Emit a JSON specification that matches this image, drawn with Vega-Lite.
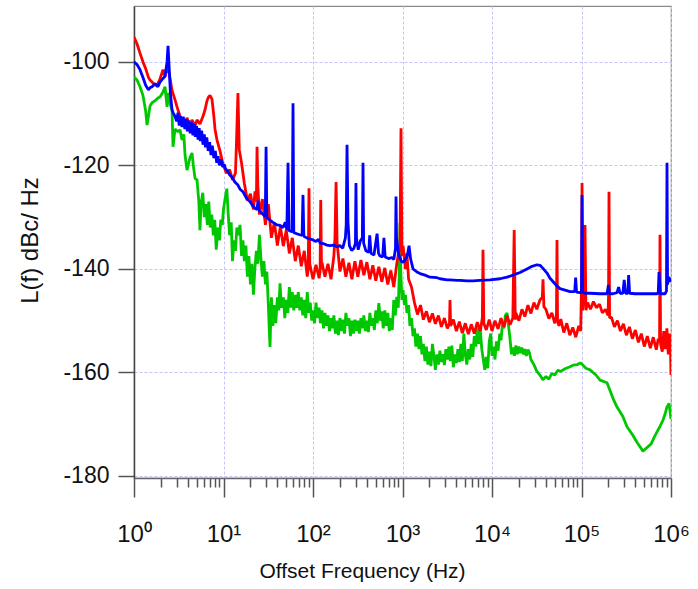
{
"$schema":"https://vega.github.io/schema/vega-lite/v6.json",
"width":537,"height":472,
"autosize":{"type":"none"},
"padding":{"left":134,"top":6,"right":27,"bottom":111},
"background":"white",
"config":{"view":{"stroke":"#8a8a8a","strokeWidth":1.2},"font":"Liberation Sans"},
"datasets":{
"blue":[{"freq":1,"level":-100},{"freq":1.08,"level":-100.5},{"freq":1.167,"level":-101.5},{"freq":1.26,"level":-103},{"freq":1.35,"level":-104.5},{"freq":1.45,"level":-105.4},{"freq":1.51,"level":-105},{"freq":1.59,"level":-104.8},{"freq":1.72,"level":-104.2},{"freq":1.85,"level":-104.8},{"freq":1.95,"level":-103.9},{"freq":2.11,"level":-103.2},{"freq":2.22,"level":-102.8},{"freq":2.34,"level":-100},{"freq":2.4,"level":-96.9},{"freq":2.47,"level":-101},{"freq":2.55,"level":-106},{"freq":2.66,"level":-109.3},{"freq":2.73,"level":-109.8},{"freq":2.87,"level":-110.5},{"freq":3,"level":-111.5},{"freq":3.1,"level":-109.8},{"freq":3.2,"level":-112.3},{"freq":3.3,"level":-110.5},{"freq":3.44,"level":-112.6},{"freq":3.55,"level":-110.6},{"freq":3.7,"level":-113},{"freq":3.8,"level":-111},{"freq":3.95,"level":-113.4},{"freq":4.1,"level":-111.3},{"freq":4.25,"level":-113.8},{"freq":4.4,"level":-111.7},{"freq":4.55,"level":-114.2},{"freq":4.7,"level":-112},{"freq":4.85,"level":-114.5},{"freq":5,"level":-112.4},{"freq":5.2,"level":-115},{"freq":5.35,"level":-112.8},{"freq":5.5,"level":-115.3},{"freq":5.7,"level":-113.3},{"freq":5.9,"level":-116},{"freq":6.1,"level":-114},{"freq":6.3,"level":-116.5},{"freq":6.5,"level":-114.6},{"freq":6.75,"level":-117.2},{"freq":7,"level":-115.5},{"freq":7.25,"level":-118},{"freq":7.5,"level":-116.2},{"freq":7.8,"level":-118.6},{"freq":8.1,"level":-117.2},{"freq":8.4,"level":-119.5},{"freq":8.7,"level":-118.2},{"freq":9,"level":-120},{"freq":9.4,"level":-118.8},{"freq":9.8,"level":-120.3},{"freq":10.2,"level":-119.8},{"freq":10.5,"level":-120.6},{"freq":11.2,"level":-121.2},{"freq":11.8,"level":-121.9},{"freq":12.5,"level":-122.3},{"freq":13.4,"level":-123.2},{"freq":14.5,"level":-123.8},{"freq":15.3,"level":-124.6},{"freq":16.5,"level":-125.1},{"freq":18.3,"level":-126.5},{"freq":19.8,"level":-127},{"freq":21,"level":-127.7},{"freq":22.5,"level":-128.3},{"freq":23.7,"level":-128.5},{"freq":24.3,"level":-126.8},{"freq":25,"level":-128.7},{"freq":27,"level":-129.3},{"freq":29.3,"level":-129.9},{"freq":29.9,"level":-116.4},{"freq":30.5,"level":-130},{"freq":33.1,"level":-130.6},{"freq":35.7,"level":-131},{"freq":39.6,"level":-131.5},{"freq":42.8,"level":-131.6},{"freq":46.2,"level":-132},{"freq":49,"level":-131},{"freq":51,"level":-132.5},{"freq":52.6,"level":-119.5},{"freq":54,"level":-132.6},{"freq":58.5,"level":-132.8},{"freq":59.8,"level":-108},{"freq":61,"level":-133},{"freq":66,"level":-133.2},{"freq":71,"level":-133.4},{"freq":75.5,"level":-133.5},{"freq":77.3,"level":-125.7},{"freq":79,"level":-133.7},{"freq":85,"level":-134},{"freq":92,"level":-134.2},{"freq":100,"level":-134.4},{"freq":108,"level":-134.7},{"freq":115,"level":-134.3},{"freq":120,"level":-135},{"freq":130,"level":-135.1},{"freq":143,"level":-135.4},{"freq":155,"level":-135.5},{"freq":170,"level":-135.4},{"freq":185,"level":-135.7},{"freq":200,"level":-135.5},{"freq":215,"level":-136},{"freq":230,"level":-134},{"freq":235,"level":-131.5},{"freq":240,"level":-116},{"freq":246,"level":-131},{"freq":255,"level":-135.5},{"freq":270,"level":-136.4},{"freq":285,"level":-136.1},{"freq":298,"level":-135},{"freq":302,"level":-123.4},{"freq":306,"level":-134},{"freq":320,"level":-136.3},{"freq":340,"level":-134.5},{"freq":356,"level":-134},{"freq":362,"level":-119.5},{"freq":368,"level":-135},{"freq":390,"level":-136.5},{"freq":420,"level":-136.8},{"freq":430,"level":-133.5},{"freq":445,"level":-137},{"freq":480,"level":-137.3},{"freq":520,"level":-133.2},{"freq":540,"level":-137},{"freq":560,"level":-137.5},{"freq":600,"level":-137.7},{"freq":620,"level":-134},{"freq":640,"level":-137.7},{"freq":700,"level":-138},{"freq":760,"level":-137.8},{"freq":800,"level":-138.2},{"freq":835,"level":-136},{"freq":846,"level":-126},{"freq":858,"level":-134},{"freq":900,"level":-137},{"freq":940,"level":-138},{"freq":985,"level":-138.7},{"freq":1050,"level":-138.5},{"freq":1130,"level":-137.5},{"freq":1183,"level":-135.5},{"freq":1230,"level":-138},{"freq":1311,"level":-140},{"freq":1450,"level":-140.6},{"freq":1570,"level":-140.9},{"freq":1784,"level":-141.2},{"freq":2029,"level":-141.6},{"freq":2429,"level":-141.7},{"freq":2624,"level":-141.9},{"freq":3141,"level":-142.1},{"freq":3395,"level":-142.1},{"freq":4064,"level":-142.2},{"freq":4387,"level":-142.2},{"freq":5255,"level":-142.3},{"freq":6138,"level":-142.3},{"freq":7345,"level":-142.2},{"freq":9500,"level":-142.1},{"freq":12280,"level":-141.9},{"freq":14720,"level":-141.6},{"freq":17180,"level":-141.2},{"freq":20560,"level":-140.7},{"freq":24600,"level":-140},{"freq":28000,"level":-139.5},{"freq":31850,"level":-139.2},{"freq":34390,"level":-139.3},{"freq":37150,"level":-139.9},{"freq":41180,"level":-140.8},{"freq":44460,"level":-141.8},{"freq":53250,"level":-143.3},{"freq":57540,"level":-143.8},{"freq":65430,"level":-144.1},{"freq":74430,"level":-144.4},{"freq":80350,"level":-144.4},{"freq":84000,"level":-144.4},{"freq":86000,"level":-141.7},{"freq":88000,"level":-144.5},{"freq":96240,"level":-144.6},{"freq":100000,"level":-144.5},{"freq":101400,"level":-125.7},{"freq":103000,"level":-144.5},{"freq":109400,"level":-144.7},{"freq":124500,"level":-144.7},{"freq":161000,"level":-144.8},{"freq":192800,"level":-144.8},{"freq":200000,"level":-143.1},{"freq":205000,"level":-144.8},{"freq":224900,"level":-144.8},{"freq":249300,"level":-144.6},{"freq":260000,"level":-143.5},{"freq":269200,"level":-144.7},{"freq":290000,"level":-144.7},{"freq":300000,"level":-142.1},{"freq":310000,"level":-144.7},{"freq":330000,"level":-144.7},{"freq":336000,"level":-141.2},{"freq":345000,"level":-144.7},{"freq":396100,"level":-144.8},{"freq":450600,"level":-144.8},{"freq":486700,"level":-144.8},{"freq":582400,"level":-144.8},{"freq":629500,"level":-144.8},{"freq":697800,"level":-144.8},{"freq":720000,"level":-144.7},{"freq":734500,"level":-140.6},{"freq":760000,"level":-144.8},{"freq":814300,"level":-144.8},{"freq":857700,"level":-144.8},{"freq":890000,"level":-144.3},{"freq":902300,"level":-119.5},{"freq":915000,"level":-143},{"freq":940000,"level":-141.5},{"freq":960000,"level":-142.5},{"freq":1000000,"level":-141.7}],
"red":[{"freq":1,"level":-95.2},{"freq":1.08,"level":-96.5},{"freq":1.167,"level":-98.3},{"freq":1.26,"level":-100},{"freq":1.35,"level":-101.3},{"freq":1.45,"level":-103},{"freq":1.51,"level":-103.5},{"freq":1.59,"level":-103.9},{"freq":1.72,"level":-104.5},{"freq":1.85,"level":-104.2},{"freq":1.95,"level":-103.3},{"freq":2.11,"level":-101.5},{"freq":2.22,"level":-102.8},{"freq":2.34,"level":-101},{"freq":2.4,"level":-101.2},{"freq":2.52,"level":-103},{"freq":2.66,"level":-105.5},{"freq":2.87,"level":-107.3},{"freq":3,"level":-108.5},{"freq":3.27,"level":-110.5},{"freq":3.44,"level":-111.2},{"freq":3.72,"level":-112.3},{"freq":3.91,"level":-110.8},{"freq":4.22,"level":-112.6},{"freq":4.45,"level":-111.2},{"freq":4.81,"level":-112.4},{"freq":5.06,"level":-111.2},{"freq":5.46,"level":-112},{"freq":5.9,"level":-110.5},{"freq":6.21,"level":-109.3},{"freq":6.54,"level":-107.5},{"freq":6.8,"level":-106.8},{"freq":7.07,"level":-106.5},{"freq":7.44,"level":-107.2},{"freq":7.8,"level":-110.5},{"freq":8.04,"level":-113},{"freq":8.46,"level":-115.1},{"freq":9.14,"level":-117.2},{"freq":9.87,"level":-119.8},{"freq":10,"level":-120},{"freq":10.8,"level":-121.5},{"freq":11.7,"level":-120.8},{"freq":12.6,"level":-122.8},{"freq":13.6,"level":-121.5},{"freq":14,"level":-115},{"freq":14.5,"level":-106},{"freq":15,"level":-117},{"freq":15.9,"level":-119.5},{"freq":17.1,"level":-123.5},{"freq":18.5,"level":-126.8},{"freq":20,"level":-125.5},{"freq":21.6,"level":-128.5},{"freq":22.5,"level":-125},{"freq":23.3,"level":-127},{"freq":23.7,"level":-116.4},{"freq":24.2,"level":-124},{"freq":25.2,"level":-129.5},{"freq":27.2,"level":-126.5},{"freq":29.4,"level":-131.5},{"freq":31.7,"level":-127.5},{"freq":34.3,"level":-134},{"freq":37,"level":-131},{"freq":40,"level":-135.5},{"freq":43.2,"level":-131.8},{"freq":46.6,"level":-135.6},{"freq":50.3,"level":-132.5},{"freq":54.4,"level":-137},{"freq":58.7,"level":-134},{"freq":63.4,"level":-138.5},{"freq":68.5,"level":-135.5},{"freq":74,"level":-139.5},{"freq":79.9,"level":-136.5},{"freq":86.3,"level":-141.5},{"freq":88.5,"level":-140},{"freq":90.2,"level":-124.4},{"freq":92,"level":-139},{"freq":100,"level":-142},{"freq":108,"level":-139.2},{"freq":117,"level":-141.8},{"freq":120,"level":-140.5},{"freq":122,"level":-126.7},{"freq":124.5,"level":-140},{"freq":126,"level":-138.8},{"freq":136,"level":-141.5},{"freq":147,"level":-139},{"freq":159,"level":-142},{"freq":171,"level":-137.5},{"freq":176,"level":-134},{"freq":181,"level":-123.2},{"freq":186,"level":-135},{"freq":200,"level":-140.5},{"freq":216,"level":-138},{"freq":233,"level":-141.5},{"freq":252,"level":-138.8},{"freq":272,"level":-142},{"freq":294,"level":-138.5},{"freq":317,"level":-141.5},{"freq":343,"level":-138.3},{"freq":370,"level":-141.2},{"freq":400,"level":-138.7},{"freq":432,"level":-142},{"freq":466,"level":-139.3},{"freq":503,"level":-142.3},{"freq":544,"level":-139.6},{"freq":587,"level":-142.5},{"freq":634,"level":-139.8},{"freq":685,"level":-143},{"freq":740,"level":-140.3},{"freq":799,"level":-143.5},{"freq":863,"level":-139},{"freq":900,"level":-137},{"freq":938,"level":-135.5},{"freq":962,"level":-112.8},{"freq":985,"level":-137.5},{"freq":1014,"level":-135.5},{"freq":1080,"level":-140},{"freq":1120,"level":-137},{"freq":1170,"level":-142},{"freq":1260,"level":-143.5},{"freq":1360,"level":-146.5},{"freq":1470,"level":-148.8},{"freq":1590,"level":-147},{"freq":1710,"level":-149.8},{"freq":1850,"level":-148.2},{"freq":2000,"level":-150.3},{"freq":2160,"level":-148.6},{"freq":2330,"level":-150.6},{"freq":2520,"level":-149},{"freq":2720,"level":-151.2},{"freq":2940,"level":-149.5},{"freq":3170,"level":-151.5},{"freq":3350,"level":-150.5},{"freq":3395,"level":-146},{"freq":3450,"level":-151},{"freq":3700,"level":-149.8},{"freq":4000,"level":-152},{"freq":4320,"level":-150.2},{"freq":4660,"level":-152.4},{"freq":5030,"level":-150.5},{"freq":5440,"level":-152.6},{"freq":5870,"level":-150.7},{"freq":6340,"level":-152.5},{"freq":6850,"level":-150.3},{"freq":7400,"level":-152},{"freq":7800,"level":-149.5},{"freq":7932,"level":-136.3},{"freq":8100,"level":-150.5},{"freq":8630,"level":-151.8},{"freq":9320,"level":-149.8},{"freq":10000,"level":-152},{"freq":10800,"level":-150},{"freq":11700,"level":-151.6},{"freq":12600,"level":-149.5},{"freq":13600,"level":-151.2},{"freq":14700,"level":-149},{"freq":15900,"level":-150.8},{"freq":17100,"level":-149.5},{"freq":17700,"level":-132.5},{"freq":18200,"level":-149.8},{"freq":18500,"level":-148.5},{"freq":20000,"level":-150},{"freq":21600,"level":-147.8},{"freq":23300,"level":-149.2},{"freq":25200,"level":-147},{"freq":27200,"level":-148.6},{"freq":29400,"level":-146.5},{"freq":31700,"level":-147.8},{"freq":34300,"level":-146},{"freq":36500,"level":-145.5},{"freq":37150,"level":-142},{"freq":38000,"level":-147.3},{"freq":40000,"level":-147.8},{"freq":43200,"level":-149.6},{"freq":46600,"level":-148.5},{"freq":50300,"level":-150.5},{"freq":52500,"level":-149},{"freq":53250,"level":-134.4},{"freq":54000,"level":-150},{"freq":56000,"level":-151},{"freq":58700,"level":-149.7},{"freq":63400,"level":-152.3},{"freq":68500,"level":-150.5},{"freq":74000,"level":-152.8},{"freq":79900,"level":-151.3},{"freq":86300,"level":-153.2},{"freq":93200,"level":-151},{"freq":98000,"level":-152},{"freq":100000,"level":-143},{"freq":101400,"level":-123.4},{"freq":103000,"level":-148},{"freq":106000,"level":-145},{"freq":109400,"level":-131.5},{"freq":112000,"level":-148},{"freq":117000,"level":-146.5},{"freq":126000,"level":-147.8},{"freq":136000,"level":-146.3},{"freq":147000,"level":-147.5},{"freq":159000,"level":-146.8},{"freq":171000,"level":-148.5},{"freq":185000,"level":-147.8},{"freq":198000,"level":-149},{"freq":200500,"level":-145},{"freq":203000,"level":-125.1},{"freq":206000,"level":-149.5},{"freq":216000,"level":-149.3},{"freq":233000,"level":-151.2},{"freq":252000,"level":-150},{"freq":272000,"level":-152},{"freq":294000,"level":-150.6},{"freq":317000,"level":-152.8},{"freq":343000,"level":-151.2},{"freq":370000,"level":-153.5},{"freq":400000,"level":-151.8},{"freq":432000,"level":-154.2},{"freq":466000,"level":-152.5},{"freq":503000,"level":-155},{"freq":544000,"level":-153},{"freq":587000,"level":-155.3},{"freq":634000,"level":-153.2},{"freq":685000,"level":-155.6},{"freq":720000,"level":-153.5},{"freq":745000,"level":-154},{"freq":753400,"level":-133.4},{"freq":765000,"level":-154.5},{"freq":799000,"level":-156},{"freq":830000,"level":-152},{"freq":863000,"level":-155.5},{"freq":900000,"level":-151.5},{"freq":932000,"level":-156.5},{"freq":960000,"level":-152.5},{"freq":985000,"level":-155},{"freq":1000000,"level":-160.5}],
"green":[{"freq":1,"level":-102.9},{"freq":1.08,"level":-103.5},{"freq":1.167,"level":-104.8},{"freq":1.26,"level":-106.5},{"freq":1.35,"level":-109.5},{"freq":1.4,"level":-112.2},{"freq":1.45,"level":-110.5},{"freq":1.51,"level":-108.5},{"freq":1.59,"level":-107.9},{"freq":1.72,"level":-107.5},{"freq":1.85,"level":-107},{"freq":1.95,"level":-106.8},{"freq":2.11,"level":-105.8},{"freq":2.22,"level":-104.8},{"freq":2.34,"level":-108.7},{"freq":2.4,"level":-106},{"freq":2.52,"level":-108},{"freq":2.66,"level":-109.3},{"freq":2.73,"level":-116.4},{"freq":2.87,"level":-113},{"freq":3.1,"level":-113.5},{"freq":3.27,"level":-113.1},{"freq":3.44,"level":-115.1},{"freq":3.6,"level":-114},{"freq":3.72,"level":-118},{"freq":3.91,"level":-120.9},{"freq":4.22,"level":-118.5},{"freq":4.45,"level":-117.6},{"freq":4.6,"level":-120},{"freq":4.81,"level":-122.5},{"freq":5.06,"level":-122.8},{"freq":5.3,"level":-127},{"freq":5.46,"level":-132.5},{"freq":5.6,"level":-127.5},{"freq":5.87,"level":-125.3},{"freq":6.1,"level":-130},{"freq":6.34,"level":-127.5},{"freq":6.6,"level":-131.5},{"freq":6.85,"level":-127},{"freq":7.1,"level":-132},{"freq":7.4,"level":-129.5},{"freq":7.7,"level":-133.5},{"freq":7.99,"level":-130.5},{"freq":8.3,"level":-136.3},{"freq":8.63,"level":-132},{"freq":9,"level":-134.5},{"freq":9.32,"level":-130.5},{"freq":9.7,"level":-131.5},{"freq":10,"level":-128.5},{"freq":10.4,"level":-126.5},{"freq":10.9,"level":-124.5},{"freq":11.3,"level":-129.5},{"freq":11.7,"level":-133.5},{"freq":12.2,"level":-131},{"freq":12.6,"level":-138.5},{"freq":13.1,"level":-134.5},{"freq":13.6,"level":-136.5},{"freq":14.1,"level":-132},{"freq":14.7,"level":-133.5},{"freq":15.3,"level":-131.5},{"freq":15.9,"level":-137.5},{"freq":16.5,"level":-134.5},{"freq":17.1,"level":-138.5},{"freq":17.8,"level":-135.5},{"freq":18.5,"level":-141.5},{"freq":19.2,"level":-137.5},{"freq":20,"level":-143},{"freq":20.8,"level":-139},{"freq":21.6,"level":-145},{"freq":22.4,"level":-140},{"freq":23.3,"level":-136.5},{"freq":24.2,"level":-139},{"freq":25.2,"level":-133.4},{"freq":26.2,"level":-138},{"freq":27.2,"level":-141.5},{"freq":28.3,"level":-138.5},{"freq":29.4,"level":-143},{"freq":30.5,"level":-140.5},{"freq":31.7,"level":-147},{"freq":32.5,"level":-152},{"freq":33.1,"level":-155.1},{"freq":33.8,"level":-149},{"freq":34.3,"level":-145.5},{"freq":35.6,"level":-151},{"freq":37,"level":-147},{"freq":38.4,"level":-150.5},{"freq":40,"level":-145.5},{"freq":41.5,"level":-148},{"freq":42.8,"level":-142.8},{"freq":44.5,"level":-147.5},{"freq":46.6,"level":-145.5},{"freq":48.4,"level":-149.5},{"freq":50.3,"level":-146},{"freq":52.3,"level":-148.5},{"freq":54.4,"level":-143.5},{"freq":56.5,"level":-147.5},{"freq":58.7,"level":-144.5},{"freq":61,"level":-148},{"freq":63.4,"level":-145},{"freq":65.9,"level":-147.5},{"freq":68.5,"level":-144.5},{"freq":71.2,"level":-148},{"freq":74,"level":-145.5},{"freq":76.9,"level":-149},{"freq":79.9,"level":-146},{"freq":83,"level":-149.5},{"freq":86.3,"level":-144.5},{"freq":89.7,"level":-148.5},{"freq":93.2,"level":-146.5},{"freq":96.9,"level":-150},{"freq":100,"level":-148},{"freq":104,"level":-150.5},{"freq":108,"level":-146.5},{"freq":112,"level":-149.5},{"freq":117,"level":-147.5},{"freq":121,"level":-150.5},{"freq":126,"level":-148},{"freq":131,"level":-151.5},{"freq":136,"level":-148.5},{"freq":141,"level":-151},{"freq":147,"level":-149},{"freq":153,"level":-152},{"freq":159,"level":-149.5},{"freq":165,"level":-151.5},{"freq":171,"level":-149},{"freq":178,"level":-152.5},{"freq":185,"level":-150},{"freq":192,"level":-152.8},{"freq":200,"level":-149.5},{"freq":208,"level":-152},{"freq":216,"level":-149.8},{"freq":225,"level":-152.5},{"freq":233,"level":-148.5},{"freq":243,"level":-151},{"freq":252,"level":-149.5},{"freq":262,"level":-153},{"freq":272,"level":-150},{"freq":283,"level":-152.5},{"freq":294,"level":-149.8},{"freq":305,"level":-152},{"freq":317,"level":-150},{"freq":330,"level":-152.5},{"freq":343,"level":-149.5},{"freq":356,"level":-151.5},{"freq":370,"level":-149},{"freq":385,"level":-152},{"freq":400,"level":-150},{"freq":416,"level":-152.2},{"freq":432,"level":-148.5},{"freq":449,"level":-151},{"freq":466,"level":-149.5},{"freq":485,"level":-151.8},{"freq":503,"level":-148},{"freq":523,"level":-150.5},{"freq":544,"level":-146.6},{"freq":566,"level":-150},{"freq":587,"level":-148.2},{"freq":610,"level":-151.5},{"freq":634,"level":-148},{"freq":659,"level":-151},{"freq":685,"level":-148.5},{"freq":712,"level":-152},{"freq":740,"level":-149.5},{"freq":769,"level":-151.8},{"freq":799,"level":-146},{"freq":831,"level":-149},{"freq":863,"level":-145.4},{"freq":897,"level":-147.5},{"freq":920,"level":-141},{"freq":938,"level":-131.1},{"freq":955,"level":-140},{"freq":985,"level":-146},{"freq":1014,"level":-144.1},{"freq":1050,"level":-147},{"freq":1080,"level":-145},{"freq":1120,"level":-148.5},{"freq":1170,"level":-147},{"freq":1210,"level":-151},{"freq":1260,"level":-149.5},{"freq":1310,"level":-153},{"freq":1360,"level":-151.5},{"freq":1410,"level":-155},{"freq":1470,"level":-152.5},{"freq":1530,"level":-155.5},{"freq":1590,"level":-153},{"freq":1650,"level":-156.5},{"freq":1710,"level":-154.5},{"freq":1780,"level":-157.8},{"freq":1850,"level":-155},{"freq":1920,"level":-158.5},{"freq":2000,"level":-156},{"freq":2080,"level":-158.8},{"freq":2160,"level":-154.5},{"freq":2250,"level":-157},{"freq":2330,"level":-159.5},{"freq":2420,"level":-156.5},{"freq":2520,"level":-158.5},{"freq":2620,"level":-155.8},{"freq":2720,"level":-158},{"freq":2830,"level":-156.5},{"freq":2940,"level":-158.6},{"freq":3050,"level":-155.5},{"freq":3170,"level":-157.5},{"freq":3300,"level":-155},{"freq":3430,"level":-157.8},{"freq":3560,"level":-154.8},{"freq":3700,"level":-159},{"freq":3850,"level":-156.5},{"freq":4000,"level":-158.2},{"freq":4160,"level":-155.5},{"freq":4320,"level":-158},{"freq":4490,"level":-154.5},{"freq":4660,"level":-157.8},{"freq":4850,"level":-152.5},{"freq":5030,"level":-156.5},{"freq":5230,"level":-158.5},{"freq":5440,"level":-155.5},{"freq":5650,"level":-157.5},{"freq":5870,"level":-154.5},{"freq":6100,"level":-157},{"freq":6340,"level":-153},{"freq":6590,"level":-155},{"freq":6850,"level":-151.5},{"freq":7120,"level":-154.5},{"freq":7400,"level":-151.8},{"freq":7690,"level":-155.5},{"freq":7990,"level":-157.5},{"freq":8300,"level":-159.5},{"freq":8630,"level":-157},{"freq":8970,"level":-159.2},{"freq":9320,"level":-154},{"freq":9690,"level":-152.5},{"freq":10000,"level":-156.8},{"freq":10400,"level":-155},{"freq":10800,"level":-157.5},{"freq":11200,"level":-154},{"freq":11700,"level":-155.8},{"freq":12200,"level":-152.5},{"freq":12600,"level":-153.8},{"freq":13100,"level":-150.5},{"freq":13600,"level":-151.5},{"freq":14100,"level":-149},{"freq":14700,"level":-148.5},{"freq":15300,"level":-151},{"freq":15900,"level":-153.5},{"freq":16500,"level":-156.5},{"freq":17100,"level":-155.2},{"freq":17800,"level":-156.8},{"freq":18500,"level":-154.8},{"freq":19200,"level":-156.5},{"freq":20000,"level":-155},{"freq":20800,"level":-156.3},{"freq":21600,"level":-155.2},{"freq":22500,"level":-156.5},{"freq":23300,"level":-155.5},{"freq":24200,"level":-156.8},{"freq":25200,"level":-155.6},{"freq":26200,"level":-156.2},{"freq":27200,"level":-157.5},{"freq":29400,"level":-158.5},{"freq":31700,"level":-159.8},{"freq":34300,"level":-160.5},{"freq":37000,"level":-161.4},{"freq":40000,"level":-160.8},{"freq":43200,"level":-161.3},{"freq":46600,"level":-160.2},{"freq":50300,"level":-160.5},{"freq":54400,"level":-159.6},{"freq":58700,"level":-159.8},{"freq":65430,"level":-159.3},{"freq":74430,"level":-158.9},{"freq":80350,"level":-158.6},{"freq":89130,"level":-158.5},{"freq":96240,"level":-158.2},{"freq":100000,"level":-158.3},{"freq":112000,"level":-159.2},{"freq":124500,"level":-159.5},{"freq":145000,"level":-160.5},{"freq":161000,"level":-161.5},{"freq":192800,"level":-162},{"freq":224900,"level":-165},{"freq":249300,"level":-166.7},{"freq":290000,"level":-168.5},{"freq":322300,"level":-170.5},{"freq":370000,"level":-172},{"freq":420000,"level":-173.6},{"freq":486700,"level":-175.2},{"freq":540000,"level":-174.5},{"freq":600000,"level":-173.8},{"freq":650000,"level":-172.5},{"freq":697800,"level":-171.5},{"freq":750000,"level":-170.5},{"freq":814300,"level":-169.2},{"freq":860000,"level":-168},{"freq":900000,"level":-166.7},{"freq":950000,"level":-166},{"freq":974500,"level":-167.5},{"freq":1000000,"level":-169}]
},
"encoding":{
"x":{"field":"freq","type":"quantitative",
"scale":{"type":"log","domain":[1,1000000],"nice":false},
"axis":{
"values":[1,2,3,4,5,6,7,8,9,10,20,30,40,50,60,70,80,90,100,200,300,400,500,600,700,800,900,1000,2000,3000,4000,5000,6000,7000,8000,9000,10000,20000,30000,40000,50000,60000,70000,80000,90000,100000,200000,300000,400000,500000,600000,700000,800000,900000,1000000],
"labelExpr":"abs(log(datum.value)/LN10 - round(log(datum.value)/LN10)) < 0.001 ? '10' + substring('⁰¹²³⁴⁵⁶', round(log(datum.value)/LN10), round(log(datum.value)/LN10)+1) : ''",
"labelOverlap":false,"labelFlush":false,"labelBound":false,
"labelFontSize":24,"labelColor":"#111","labelPadding":25,
"tickSize":{"condition":{"test":"abs(log(datum.value)/LN10 - round(log(datum.value)/LN10)) < 0.001","value":19},"value":9},
"tickColor":"#555","tickWidth":1.5,
"domainColor":"#666","domainWidth":1.5,
"grid":true,"gridColor":"#c4c4fa","gridDash":[3,2],"gridWidth":1,
"gridOpacity":{"condition":{"test":"abs(log(datum.value)/LN10 - round(log(datum.value)/LN10)) < 0.001","value":1},"value":0},
"title":"Offset Frequency (Hz)","titleFontSize":21,"titleFontWeight":"normal","titleColor":"#111",
"titleX":228,"titleY":99,"titleAlign":"center","titleBaseline":"alphabetic"}},
"y":{"field":"level","type":"quantitative",
"scale":{"domain":[-180.4,-89.2],"nice":false,"zero":false},
"axis":{"values":[-180,-160,-140,-120,-100],
"labelExpr":"'' + datum.value",
"labelFontSize":23,"labelColor":"#111","labelPadding":9,
"tickSize":16,"tickColor":"#555","tickWidth":1.5,
"domainColor":"#444","domainWidth":1.5,
"grid":true,"gridColor":"#c4c4fa","gridDash":[3,2],"gridWidth":1,
"title":"L(f) dBc/ Hz","titleFontSize":24,"titleFontWeight":"normal","titleColor":"#111",
"titleAngle":-90,"titleX":-97,"titleY":234,"titleAlign":"center","titleBaseline":"alphabetic"}}
},
"layer":[
{"data":{"name":"green"},"mark":{"type":"line","color":"#00c800","strokeWidth":2.8,"strokeJoin":"bevel","clip":true}},
{"data":{"name":"red"},"mark":{"type":"line","color":"#ff0000","strokeWidth":2.8,"strokeJoin":"bevel","clip":true}},
{"data":{"name":"blue"},"mark":{"type":"line","color":"#0000ff","strokeWidth":2.8,"strokeJoin":"bevel","clip":true}}
]
}
